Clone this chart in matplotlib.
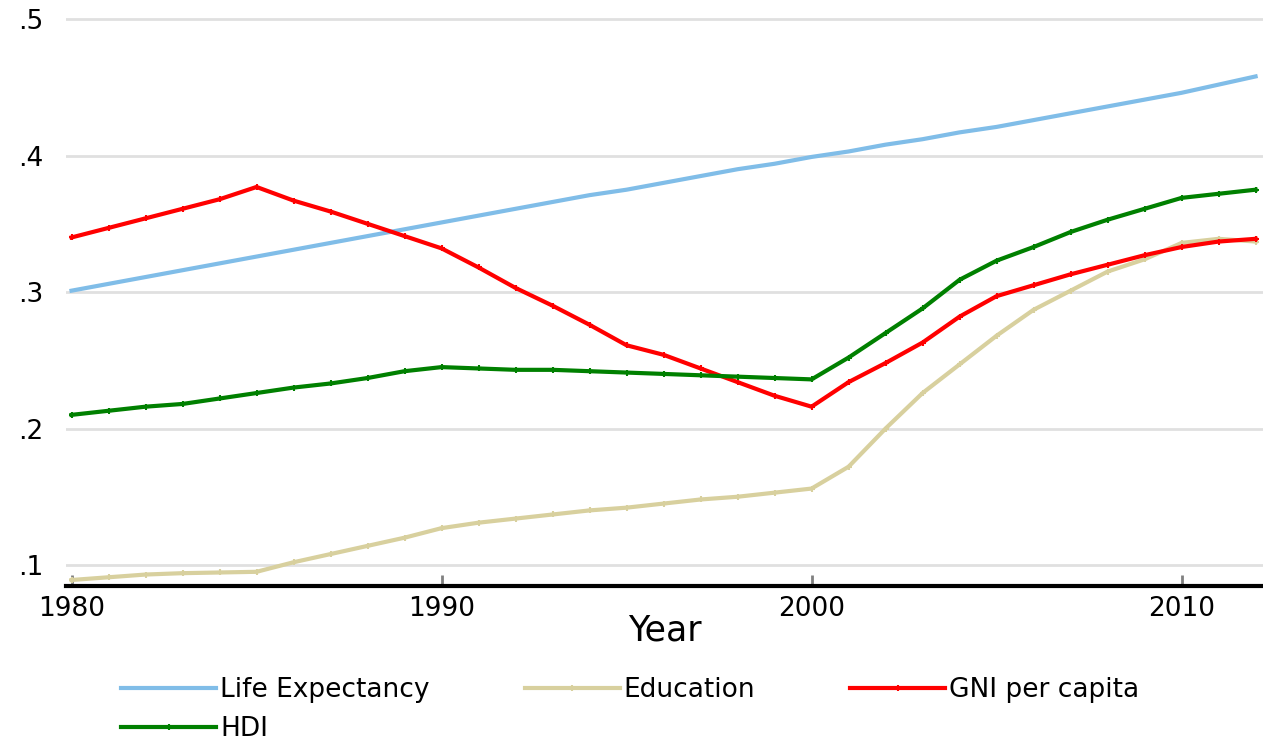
import matplotlib
matplotlib.use("Agg")
import matplotlib.pyplot as plt
from matplotlib.ticker import FuncFormatter

# Años y series
anios = list(range(1980, 2013))

life_expectancy = [0.301, 0.306, 0.311, 0.316, 0.321, 0.326, 0.331, 0.336, 0.341, 0.346,
                   0.351, 0.356, 0.361, 0.366, 0.371, 0.375, 0.380, 0.385, 0.390, 0.394,
                   0.399, 0.403, 0.408, 0.412, 0.417, 0.421, 0.426, 0.431, 0.436, 0.441,
                   0.446, 0.452, 0.458]

education = [0.089, 0.091, 0.093, 0.094, 0.0945, 0.095, 0.102, 0.108, 0.114, 0.120,
             0.127, 0.131, 0.134, 0.137, 0.140, 0.142, 0.145, 0.148, 0.150, 0.153,
             0.156, 0.172, 0.200, 0.226, 0.247, 0.268, 0.287, 0.301, 0.315, 0.324,
             0.336, 0.339, 0.337]

gni_per_capita = [0.340, 0.347, 0.354, 0.361, 0.368, 0.377, 0.367, 0.359, 0.350, 0.341,
                  0.332, 0.318, 0.303, 0.290, 0.276, 0.261, 0.254, 0.244, 0.234, 0.224,
                  0.216, 0.234, 0.248, 0.263, 0.282, 0.297, 0.305, 0.313, 0.320, 0.327,
                  0.333, 0.337, 0.339]

hdi = [0.210, 0.213, 0.216, 0.218, 0.222, 0.226, 0.230, 0.233, 0.237, 0.242,
       0.245, 0.244, 0.243, 0.243, 0.242, 0.241, 0.240, 0.239, 0.238, 0.237,
       0.236, 0.252, 0.270, 0.288, 0.309, 0.323, 0.333, 0.344, 0.353, 0.361,
       0.369, 0.372, 0.375]

series = [
    ('Life Expectancy', life_expectancy, '#80BDE8', None),
    ('Education', education, '#D8D09E', '+'),
    ('GNI per capita', gni_per_capita, '#FF0000', '+'),
    ('HDI', hdi, '#008000', '+'),
]

fig = plt.figure(figsize=(12.63, 7.42), dpi=100)
ax = fig.add_axes([66 / 1263, 1 - 586 / 742, 1 - 66 / 1263, 586 / 742])

lineas = {}
for nombre, valores, color, marcador in series:
    l, = ax.plot(anios, valores, color=color, linewidth=3, label=nombre,
                 marker=marcador, markersize=5, markeredgewidth=1.5)
    lineas[nombre] = l

ax.set_xlim(1979.85, 2012.2)
ax.set_ylim(0.0846, 0.514)
ax.set_xticks([1980, 1990, 2000, 2010])
ax.set_yticks([0.1, 0.2, 0.3, 0.4, 0.5])
ax.yaxis.set_major_formatter(FuncFormatter(lambda v, p: f"{v:.1f}".lstrip('0')))

ax.grid(axis='y', color='#E0E0E0', linewidth=2)
ax.set_axisbelow(True)
for lado in ['left', 'right', 'top']:
    ax.spines[lado].set_visible(False)
ax.spines['bottom'].set_linewidth(3)
ax.spines['bottom'].set_color('black')

ax.tick_params(axis='x', direction='in', length=8, width=2, color='#808080',
               labelsize=19, pad=7)
ax.tick_params(axis='y', length=0, labelsize=19, pad=16)

ax.set_xlabel('Year', fontsize=25, labelpad=-6)

# Orden para que la leyenda se llene por filas
orden = ['Life Expectancy', 'HDI', 'Education', 'GNI per capita']
fig.legend([lineas[n] for n in orden], orden,
           loc='upper left', bbox_to_anchor=(108 / 1263, 1 - 664 / 742), ncol=3,
           frameon=False, fontsize=19, handlelength=3.6, handletextpad=0.15,
           columnspacing=3.6, labelspacing=0.5, borderpad=0)

fig.savefig('out.png', dpi=100)
